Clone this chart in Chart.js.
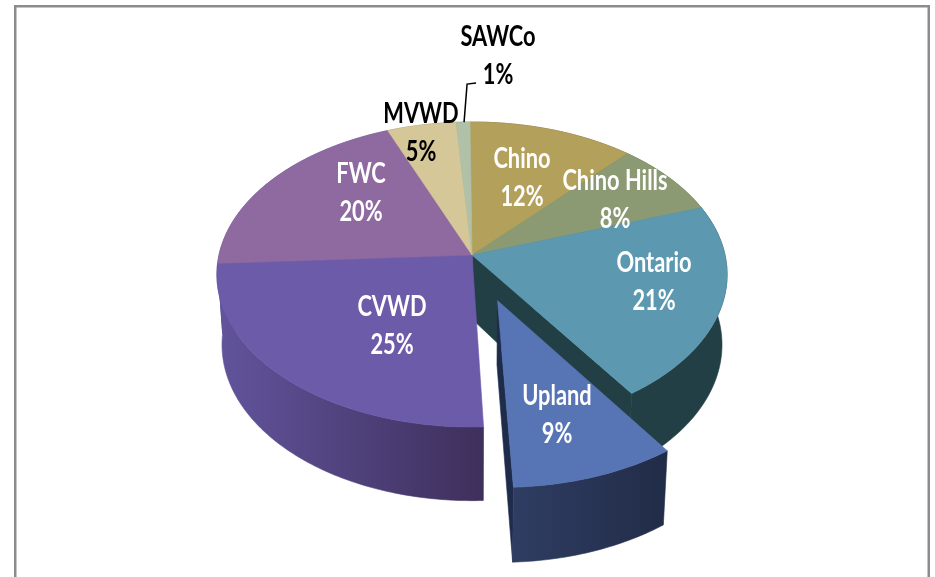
<!DOCTYPE html>
<html>
<head>
<meta charset="utf-8">
<style>html,body{margin:0;padding:0;background:#fff}canvas{display:block}</style>
<script src="https://cdn.jsdelivr.net/npm/chart.js@4"></script>
</head>
<body>
<canvas id="c" width="935" height="577"></canvas>
<script>
const categories = ['Chino','Chino Hills','Ontario','Upland','CVWD','FWC','MVWD','SAWCo'];
const shares = [12,8,21,9,25,20,5,1];
const percentLabels = ['12%','8%','21%','9%','25%','20%','5%','1%'];

const topColors = ['#b3a05a','#8b9a72','#5c99b0','#5775b4','#6c5ba9','#8f6aa1','#d5c797','#b1c1a8'];
const wallColors = [['#6e6238','#6e6238'],['#56604a','#56604a'],['#233f46','#233f46'],['#2f3d63','#212c47'],
                    ['#62549c','#3e2f5c'],['#62549c','#62549c'],['#857c5e','#857c5e'],['#6e7869','#6e7869']];
const textColors = ['#fff','#fff','#fff','#fff','#fff','#fff','#000','#000'];
const labelOffsets = [[50,-77],[143,-55],[182,27],[85,160],[-80,71],[-111,-62],[-51,-122],[26,-199]];

const TILT = 150/253, PERSP = 0.128, SHRINK = 0.98;

const pie3d = {
  id:'pie3d',
  beforeDraw(chart){
    const c = chart.ctx;
    c.save();
    c.fillStyle='#fff'; c.fillRect(0,0,chart.width,chart.height);
    c.fillStyle='#8c8c8c';
    c.fillRect(14,5,916,2.5);
    c.fillRect(14,5,2.5,chart.height);
    c.fillRect(927.5,5,2.5,chart.height);
    c.restore();
  },
  beforeDatasetDraw(chart,args){
    const c = chart.ctx;
    const arcs = chart.getDatasetMeta(args.index).data;
    const infos = arcs.map((el,i)=>{
      const p = el.getProps(['x','y','startAngle','endAngle','outerRadius']);
      const off = el.options.offset||0;
      const mid=(p.startAngle+p.endAngle)/2;
      return {i,...p,du:Math.cos(mid)*off,dv:Math.sin(mid)*off,off};
    });
    const top=(s,a,r)=>{
      const u=r*Math.cos(a)+s.du, v=r*Math.sin(a)+s.dv, R=s.outerRadius;
      const d=1-PERSP*v/R;
      return [s.x+u/d, s.y+TILT*v/d];
    };
    const bot=(s,a,r)=>{
      const [X,Y]=top(s,a,r), f=r/s.outerRadius;
      const depth=64*(1-f)+f*(70+0.022*(Y-262));
      return [s.x+(X-s.x)*SHRINK, Y+depth];
    };
    const angles=s=>{
      const n=Math.max(2,Math.ceil((s.endAngle-s.startAngle)/0.015)), out=[];
      for(let k=0;k<=n;k++) out.push(s.startAngle+(s.endAngle-s.startAngle)*k/n);
      return out;
    };
    const poly=(pts,fill)=>{
      c.beginPath(); pts.forEach((p,k)=>k?c.lineTo(p[0],p[1]):c.moveTo(p[0],p[1])); c.closePath();
      c.fillStyle=fill; c.fill(); c.strokeStyle=fill; c.lineWidth=0.6; c.stroke();
    };
    const drawWalls=s=>{
      const as=angles(s), R=s.outerRadius;
      const t=as.map(a=>top(s,a,R)), b=as.map(a=>bot(s,a,R));
      const xs=t.map(p=>p[0]);
      const g=c.createLinearGradient(Math.min(...xs),0,Math.max(...xs),0);
      g.addColorStop(0,wallColors[s.i][0]); g.addColorStop(1,wallColors[s.i][1]);
      const face=s.off?'#1f2b4a':wallColors[s.i][1];
      poly([top(s,s.endAngle,0),top(s,s.endAngle,R),bot(s,s.endAngle,R),bot(s,s.endAngle,0)],face);
      poly(t.concat(b.slice().reverse()),g);
    };
    const drawTop=s=>{
      const as=angles(s), R=s.outerRadius;
      poly([top(s,s.startAngle,0)].concat(as.map(a=>top(s,a,R))),topColors[s.i]);
    };
    const whole=infos.filter(s=>!s.off), out=infos.filter(s=>s.off);
    whole.forEach(drawWalls); whole.forEach(drawTop);
    out.forEach(drawWalls); out.forEach(drawTop);

    const cx=infos[0].x, cy=infos[0].y;
    const lead=infos[infos.length-1];
    const a=top(lead,(lead.startAngle+lead.endAngle)/2,lead.outerRadius);
    c.beginPath(); c.moveTo(a[0]+1,a[1]); c.lineTo(a[0]+4,a[1]-38); c.lineTo(a[0]+13,a[1]-39);
    c.strokeStyle='#000'; c.lineWidth=1.5; c.stroke();

    c.textAlign='center'; c.textBaseline='middle';
    c.font='bold 28px Lato';
    const put=(t,x,y)=>c.fillText(t,x,y,c.measureText(t).width*0.78);
    infos.forEach(s=>{
      const [dx,dy]=labelOffsets[s.i];
      c.fillStyle=textColors[s.i];
      put(categories[s.i],cx+dx,cy+dy-19);
      put(percentLabels[s.i],cx+dx,cy+dy+19);
    });
    return false;
  }
};

new Chart(document.getElementById('c'),{
  type:'pie',
  data:{labels:categories,datasets:[{data:shares,backgroundColor:topColors,borderWidth:0,offset:[0,0,0,78,0,0,0,0]}]},
  options:{
    responsive:false,animation:false,radius:253,rotation:-0.5,
    layout:{padding:{left:9,bottom:67}},
    plugins:{legend:{display:false},tooltip:{enabled:false}}
  },
  plugins:[pie3d]
});
</script>
</body>
</html>
